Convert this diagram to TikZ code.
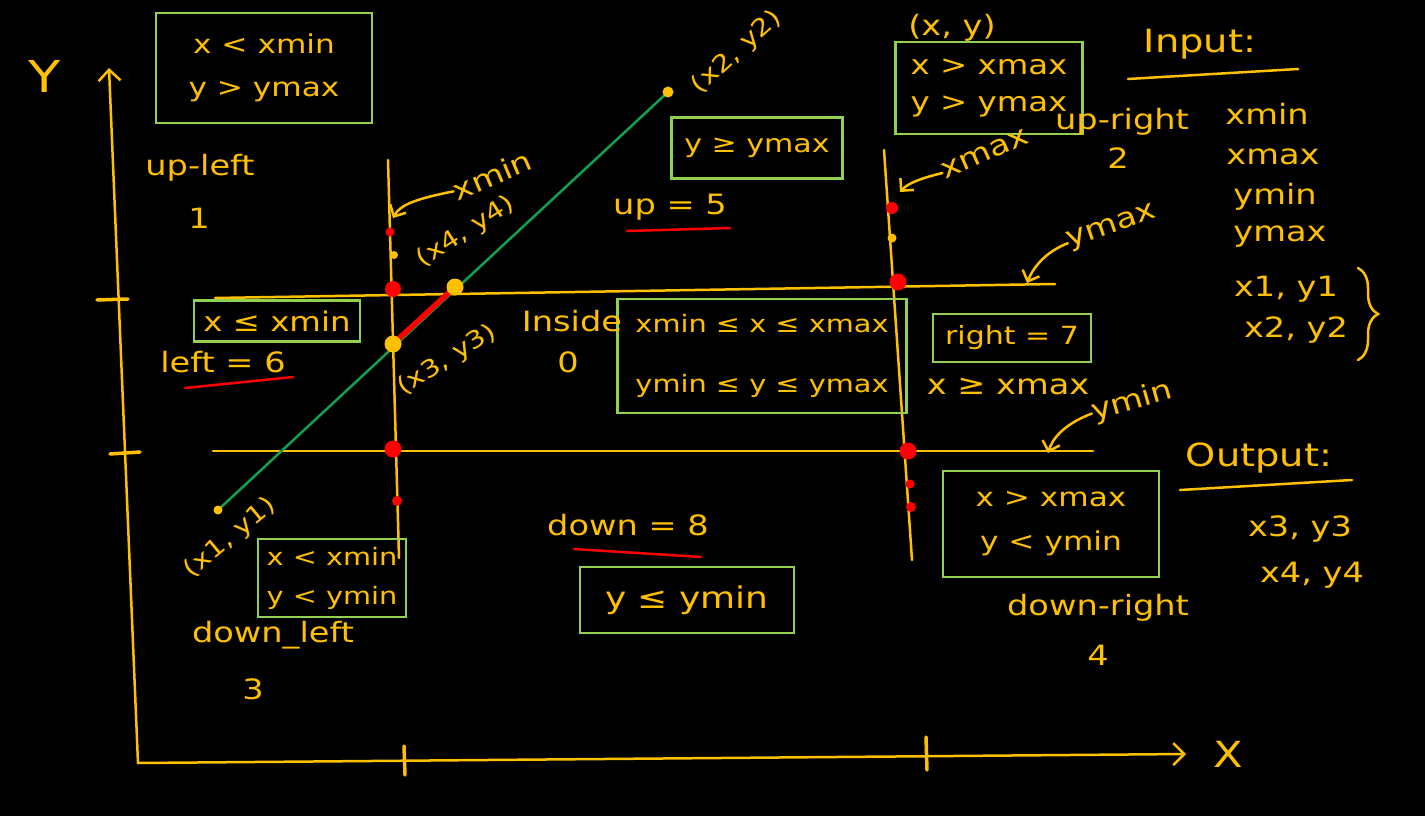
\documentclass[tikz,border=0pt]{standalone}
\usepackage{fontspec}
\setmainfont[FakeStretch=1.2]{DejaVu Sans}
\usetikzlibrary{arrows.meta,decorations.pathreplacing}

\definecolor{chalk}{HTML}{FFC000}
\definecolor{boxgreen}{HTML}{92D050}
\definecolor{segline}{HTML}{10A050}
\definecolor{redpen}{HTML}{FF0000}

\newcommand{\hand}[1]{\fontsize{#1}{#1}\selectfont}

\tikzset{
  chalkline/.style={draw=chalk, line width=2.5pt, line cap=round},
  redline/.style={draw=redpen, line width=2.5pt, line cap=round},
  condbox/.style 2 args={draw=boxgreen, line width=2.5pt, text=chalk, align=center,
    inner sep=0pt, font=\fontsize{#1}{#2}\selectfont},
  lbl/.style={text=chalk, inner sep=0pt, font=\hand{28}},
  ptlbl/.style={lbl, font=\hand{24}},
  reddot/.style={circle, fill=redpen, inner sep=0pt, minimum size=#1},
  yeldot/.style={circle, fill=chalk, inner sep=0pt, minimum size=#1},
  pointer/.style={chalkline, -{Straight Barb[length=9pt,width=18pt]}},
  axis/.style={chalkline, -{Straight Barb[length=11pt,width=22pt]}},
}

\begin{document}
\begin{tikzpicture}[x=1pt, y=-1pt]
  % board
  \fill[black] (0,0) rectangle (1425,816);

  % axes
  \coordinate (origin) at (138,763);
  \coordinate (ytip) at (109,68);
  \coordinate (xtip) at (1186,754);
  \draw[axis] (origin) -- (ytip);
  \draw[axis] (origin) -- (xtip);
  \node[lbl, font=\hand{44}] (ylbl) at (45,76) {Y};
  \node[lbl, font=\hand{36}] (xlbl) at (1228,754) {X};

  % ticks
  \draw[chalkline, line width=3.5pt] (97,300) -- (128,299);
  \draw[chalkline, line width=3.5pt] (110,454) -- (140,452);
  \draw[chalkline, line width=3.5pt] (404,746) -- (405,775);
  \draw[chalkline, line width=3.5pt] (926,737) -- (927,770);

  % clip window
  \coordinate (ymaxL) at (215,298);
  \coordinate (ymaxR) at (1055,284);
  \coordinate (yminL) at (213,451);
  \coordinate (yminR) at (1093,451);
  \coordinate (xminT) at (388,160);
  \coordinate (xminB) at (399,558);
  \coordinate (xmaxT) at (884,150);
  \coordinate (xmaxB) at (912,560);
  \draw[chalkline] (ymaxL) -- (ymaxR);
  \draw[chalkline] (yminL) -- (yminR);
  \draw[chalkline] (xminT) -- (xminB);
  \draw[chalkline] (xmaxT) -- (xmaxB);

  % segment
  \coordinate (p1) at (218,510);
  \coordinate (p2) at (668,92);
  \coordinate (p3) at (393,344);
  \coordinate (p4) at (455,287);
  \draw[segline, line width=2.5pt] (p1) -- (p2);
  \draw[redpen, line width=5.5pt, line cap=round] (p3) -- (p4);

  % dots
  \foreach \px/\py/\s [count=\i] in {390/232/9, 393/289/16, 393/449/17, 397/501/10,
      892/208/12, 898/282/17, 908/451/17, 910/484/9, 911/507/10}
    \node[reddot=\s] (red\i) at (\px,\py) {};
  \node[yeldot=8] (yel1) at (394,255) {};
  \node[yeldot=9] (yel2) at (892,238) {};
  \node[yeldot=9] (ptAdot) at (p1) {};
  \node[yeldot=11] (ptBdot) at (p2) {};
  \node[yeldot=17] (ptCdot) at (p3) {};
  \node[yeldot=17] (ptDdot) at (p4) {};

  % condition boxes
  \node[condbox={26}{43}, minimum width=216, minimum height=110] (boxA) at (264,68) {x < xmin\\y > ymax};
  \node[condbox={25}{43}, minimum width=171, minimum height=61] (boxB) at (757,148) {y ≥ ymax};
  \node[condbox={27}{37}, minimum width=187, minimum height=92] (boxC) at (989,88) {x > xmax\\y > ymax};
  \node[condbox={27}{43}, minimum width=166, minimum height=41] (boxD) at (277,321) {x ≤ xmin};
  \node[condbox={24}{60}, minimum width=289, minimum height=114] (boxE) at (762,356) {xmin ≤ x ≤ xmax\\ymin ≤ y ≤ ymax};
  \node[condbox={25}{43}, minimum width=158, minimum height=48] (boxF) at (1012,338) {right = 7};
  \node[condbox={26}{44}, minimum width=216, minimum height=106] (boxG) at (1051,524) {x > xmax\\y < ymin};
  \node[condbox={24}{39}, minimum width=148, minimum height=78] (boxH) at (332,578) {x < xmin\\y < ymin};
  \node[condbox={30}{43}, minimum width=214, minimum height=66] (boxI) at (687,600) {y ≤ ymin};

  % region labels
  \node[lbl] (upleft) at (200,168) {up-left};
  \node[lbl] (upleftno) at (199,218) {1};
  \node[lbl] (upright) at (1122,122) {up-right};
  \node[lbl] (uprightno) at (1118,158) {2};
  \node[lbl] (downleft) at (273,635) {down\_left};
  \node[lbl] (downleftno) at (253,689) {3};
  \node[lbl] (downright) at (1098,608) {down-right};
  \node[lbl] (downrightno) at (1098,655) {4};
  \node[lbl] (insidelbl) at (572,321) {Inside};
  \node[lbl] (insideno) at (568,362) {0};
  \node[lbl] (uplbl) at (670,207) {up = 5};
  \node[lbl] (leftlbl) at (223,362) {left = 6};
  \node[lbl] (downlbl) at (628,525) {down = 8};
  \node[lbl] (rightcond) at (1008,387) {x ≥ xmax};
  \draw[redline] (627,231) -- (730,228);
  \draw[redline] (185,388) -- (293,377);
  \draw[redline] (574,549) -- (701,557);

  % point labels
  \node[ptlbl, rotate=40] (ptA) at (230,538) {(x1, y1)};
  \node[ptlbl, rotate=42] (ptB) at (737,52) {(x2, y2)};
  \node[ptlbl, rotate=32] (ptC) at (447,360) {(x3, y3)};
  \node[ptlbl, rotate=33] (ptD) at (466,232) {(x4, y4)};
  \node[lbl] (ptxy) at (952,28) {(x, y)};

  % window edge labels
  \node[lbl, rotate=23] (xminlbl) at (492,175) {xmin};
  \node[lbl, rotate=24] (xmaxlbl) at (985,154) {xmax};
  \node[lbl, rotate=19] (ymaxlbl) at (1112,228) {ymax};
  \node[lbl, rotate=16] (yminlbl) at (1132,402) {ymin};
  \coordinate (xmintip) at (393,218);
  \coordinate (xmaxtip) at (900,192);
  \coordinate (ymaxtip) at (1027,283);
  \coordinate (ymintip) at (1048,453);
  \draw[pointer] (xminlbl.west) .. controls (415,199) and (400,205) .. (xmintip);
  \draw[pointer] (xmaxlbl.west) .. controls (922,178) and (908,183) .. (xmaxtip);
  \draw[pointer] (ymaxlbl.west) .. controls (1045,252) and (1033,268) .. (ymaxtip);
  \draw[pointer] (yminlbl.west) .. controls (1062,425) and (1052,440) .. (ymintip);

  % input / output
  \node[lbl, font=\hand{32}] (inlbl) at (1200,44) {Input:};
  \draw[chalkline] (1128,79) -- (1298,69);
  \node[lbl] (inxmin) at (1267,114) {xmin};
  \node[lbl] (inxmax) at (1273,157) {xmax};
  \node[lbl] (inymin) at (1275,197) {ymin};
  \node[lbl] (inymax) at (1280,237) {ymax};
  \node[lbl] (inA) at (1286,289) {x1, y1};
  \node[lbl] (inB) at (1296,330) {x2, y2};
  \draw[chalkline, decorate, decoration={brace, amplitude=20pt}] (1358,268) -- (1358,360);
  \node[lbl, font=\hand{32}] (outlbl) at (1259,458) {Output:};
  \draw[chalkline] (1180,490) -- (1352,480);
  \node[lbl] (outA) at (1300,529) {x3, y3};
  \node[lbl] (outB) at (1312,575) {x4, y4};
\end{tikzpicture}
\end{document}
